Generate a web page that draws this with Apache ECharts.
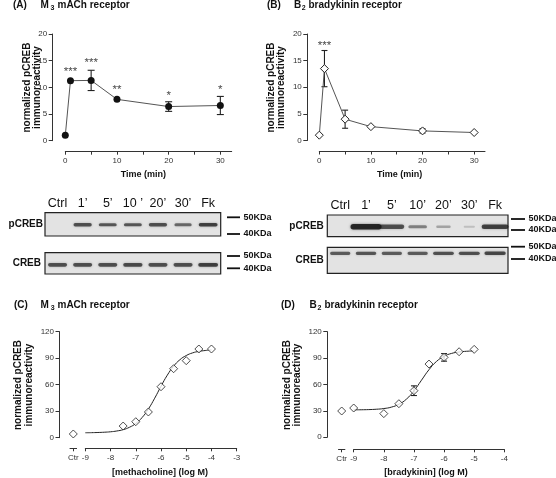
<!DOCTYPE html>
<html><head><meta charset="utf-8">
<script src="https://cdn.jsdelivr.net/npm/echarts@6/dist/echarts.min.js"></script>
<style>html,body{margin:0;padding:0;background:#fff}#c{width:556px;height:478px}</style>
</head><body><div id="c"></div><script>
// ---------- data ----------
const timeMin = [0, 1, 5, 10, 20, 30];
const timeTicks = [0, 5, 10, 15, 20, 25, 30];
const timeLabels = [0, 10, 20, 30];
const m3TimeMean = [1.0, 11.25, 11.3, 7.75, 6.4, 6.6];
const m3TimeSem = [0, 0, 1.9, 0, 0.9, 1.7];
const m3Stars = ['', '***', '***', '**', '*', '*'];
const m3StarY = [null, 13.4, 15.1, 10.1, 8.9, 10.1];
const b2TimeMean = [1.0, 13.5, 4.0, 2.6, 1.8, 1.5];
const b2TimeSem = [0, 3.4, 1.7, 0, 0.4, 0];
const b2Stars = ['', '***', '', '', '', ''];
const b2StarY = [null, 18.4, null, null, null, null];

const lanesA = ['Ctrl', '1\u2019', '5\u2019', '10 \u2019', '20\u2019', '30\u2019', 'Fk'];
const lanesB = ['Ctrl', '1\u2019', '5\u2019', '10\u2019', '20\u2019', '30\u2019', 'Fk'];
const m3pCREB = [0, 0.7, 0.65, 0.65, 0.7, 0.55, 0.8];
const m3CREB = [0.7, 0.7, 0.7, 0.72, 0.7, 0.7, 0.8];
const b2pCREB = [0, 1.0, 0.7, 0.4, 0.2, 0.04, 0.8];
const b2CREB = [0.62, 0.65, 0.62, 0.62, 0.68, 0.7, 0.75];
const kdaLabels = ['50KDa', '40KDa'];

const logMetha = [-7.5, -7, -6.5, -6, -5.5, -5, -4.5, -4];
const m3Dose = [13.2, 18.1, 29.1, 57.7, 78.1, 87.2, 100.4, 100.4];
const m3Ctr = 4.2;
const m3FitX = [-9, -8.75, -8.5, -8.25, -8, -7.75, -7.5, -7.25, -7, -6.75, -6.5, -6.25, -6, -5.75, -5.5, -5.25, -5, -4.75, -4.5, -4.25, -4];
const m3FitY = [5.6, 5.7, 5.9, 6.2, 6.7, 7.6, 9.1, 11.8, 16.1, 22.8, 32.5, 44.7, 58.2, 70.8, 80.9, 88.3, 93.0, 96.0, 97.7, 98.7, 99.4];

const logBrady = [-9, -8, -7.5, -7, -6.5, -6, -5.5, -5];
const b2Dose = [33.2, 26.8, 38.1, 52.9, 83.2, 90.8, 97.2, 99.9];
const b2DoseSem = [0, 0, 0, 5.5, 0, 4.3, 0, 0];
const b2Ctr = 29.8;
const b2FitX = [-9, -8.75, -8.5, -8.25, -8, -7.75, -7.5, -7.25, -7, -6.75, -6.5, -6.25, -6, -5.75, -5.5, -5.25, -5];
const b2FitY = [31.1, 31.2, 31.4, 31.8, 32.6, 34.2, 37.5, 43.3, 52.7, 64.8, 76.8, 86.2, 92.0, 95.3, 96.9, 97.75, 98.1];

// ---------- helpers ----------
const FONT = '"Liberation Sans", Arial, sans-serif';
const AX = '#333';
const zip = (a, b) => a.map((v, i) => [v, b[i]]);

function valX(grid, extra) {
  return Object.assign({
    type: 'value', gridIndex: grid,
    axisLine: { show: true, onZero: false, lineStyle: { color: AX, width: 1 } },
    axisTick: { show: true, length: 3, lineStyle: { color: AX } },
    axisLabel: { fontSize: 8, color: '#333', fontFamily: FONT, margin: 5 },
    splitLine: { show: false }
  }, extra);
}
function valY(grid, extra) {
  return Object.assign({
    type: 'value', gridIndex: grid, position: 'left',
    axisLine: { show: true, onZero: false, lineStyle: { color: AX, width: 1 } },
    axisTick: { show: true, length: 4, lineStyle: { color: AX } },
    axisLabel: { fontSize: 8, color: '#333', fontFamily: FONT, margin: 5.5 },
    splitLine: { show: false }
  }, extra);
}
function errData(xs, mean, sem) {
  const out = [];
  xs.forEach((x, i) => { if (sem[i] > 0) out.push([x, mean[i] - sem[i], mean[i] + sem[i]]); });
  return out;
}
function errRender(capW) {
  return function (params, api) {
    const x = api.value(0);
    const a = api.coord([x, api.value(1)]);
    const b = api.coord([x, api.value(2)]);
    const h = capW / 2;
    const st = { stroke: '#222', lineWidth: 1.1 };
    return { type: 'group', children: [
      { type: 'line', shape: { x1: a[0], y1: a[1], x2: b[0], y2: b[1] }, style: st },
      { type: 'line', shape: { x1: a[0] - h, y1: a[1], x2: a[0] + h, y2: a[1] }, style: st },
      { type: 'line', shape: { x1: b[0] - h, y1: b[1], x2: b[0] + h, y2: b[1] }, style: st }
    ] };
  };
}
function starData(xs, ys, s) {
  const out = [];
  xs.forEach((x, i) => { if (ys[i] != null && s[i]) out.push([x, ys[i], s[i]]); });
  return out;
}
function bandRender(cfg) {
  return function (params, api) {
    const inten = api.value(1);
    if (!inten) return null;
    const c = api.coord([api.value(0), 0]);
    const laneW = api.size([1, 0])[0];
    const w = laneW * (cfg.w0 + cfg.w1 * inten);
    const h = cfg.h0 + cfg.h1 * inten;
    const y = c[1] + cfg.dy;
    return { type: 'rect',
      shape: { x: c[0] - w / 2, y: y - h / 2, width: w, height: h, r: h / 2 },
      style: { fill: 'rgba(25,25,25,' + (0.15 + 0.75 * inten).toFixed(2) + ')',
               shadowBlur: 2.5, shadowColor: 'rgba(30,30,30,' + (0.6 * inten).toFixed(2) + ')' } };
  };
}

// ---------- grids ----------
const grids = [
  { left: 65.3, top: 34, width: 166.4, height: 106.7 },      // 0 A
  { left: 319.3, top: 34, width: 165.7, height: 106.5 },     // 1 B
  { left: 85.3, top: 331.7, width: 151.4, height: 106 },     // 2 C
  { left: 70, top: 331.7, width: 6.6, height: 106 },         // 3 C ctr
  { left: 353.7, top: 331.7, width: 150.6, height: 105.5 },  // 4 D
  { left: 338.5, top: 331.7, width: 6.4, height: 105.5 },    // 5 D ctr
  { left: 45, top: 212.7, width: 175.7, height: 23.3 },      // 6 A pCREB
  { left: 45, top: 252.7, width: 175.7, height: 21.3 },      // 7 A CREB
  { left: 327.3, top: 215, width: 180.7, height: 21.7 },     // 8 B pCREB
  { left: 327.3, top: 247.3, width: 180.7, height: 26 }      // 9 B CREB
];
grids.forEach((g, i) => {
  g.containLabel = false;
  if (i >= 6) { g.show = true; g.backgroundColor = '#e3e3e3'; g.borderColor = '#222'; g.borderWidth = 1.2; }
});

const timeX = (grid, max) => valX(grid, {
  min: 0, max: max, offset: 11,
  axisTick: { show: true, length: 3, lineStyle: { color: AX }, customValues: timeTicks },
  axisLabel: { fontSize: 8, color: '#333', fontFamily: FONT, margin: 5, customValues: timeLabels }
});
const ctrX = (grid, off) => valX(grid, {
  min: -1, max: 1, offset: off,
  axisTick: { show: true, length: 3, lineStyle: { color: AX }, customValues: [0] },
  axisLabel: { fontSize: 8, color: '#333', fontFamily: FONT, margin: 5, customValues: [0], formatter: () => 'Ctr' }
});
const blotX = (grid, lanes, showLabels) => ({
  type: 'category', gridIndex: grid, data: lanes, position: 'top',
  axisLine: { show: false }, axisTick: { show: false },
  axisLabel: { show: showLabels, interval: 0, fontSize: 12.5, color: '#111', fontFamily: FONT, margin: 3 }
});
const blotY = (grid, name, margin) => ({
  type: 'category', gridIndex: grid, data: [name],
  axisLine: { show: false }, axisTick: { show: false },
  axisLabel: { fontSize: 10, fontWeight: 'bold', color: '#111', fontFamily: FONT, margin: margin }
});

const xAxes = [
  timeX(0, 32.2),
  timeX(1, 32.1),
  valX(2, { min: -9, max: -3, interval: 1, offset: 10.6 }),
  ctrX(3, 10.6),
  valX(4, { min: -9, max: -4, interval: 1, offset: 12.1 }),
  ctrX(5, 12.1),
  blotX(6, lanesA, true),
  blotX(7, lanesA, false),
  blotX(8, lanesB, true),
  blotX(9, lanesB, false)
];
const yAxes = [
  valY(0, { min: 0, max: 20, interval: 5, offset: 12.6 }),
  valY(1, { min: 0, max: 20, interval: 5, offset: 12 }),
  valY(2, { min: 0, max: 120, interval: 30, offset: 25.8 }),
  { type: 'value', gridIndex: 3, min: 0, max: 120, show: false },
  valY(4, { min: 0, max: 120, interval: 30, offset: 26.4 }),
  { type: 'value', gridIndex: 5, min: 0, max: 120, show: false },
  blotY(6, 'pCREB', 2),
  blotY(7, 'CREB', 4),
  blotY(8, 'pCREB', 3.5),
  blotY(9, 'CREB', 3.5)
];

const diamond = { color: '#fff', borderColor: '#222', borderWidth: 1 };
const starLabel = { show: true, position: 'inside', formatter: p => p.data[2], fontSize: 11.5, color: '#111', fontFamily: FONT, offset: [0, 3] };

const series = [
  // A
  { type: 'custom', xAxisIndex: 0, yAxisIndex: 0, data: errData(timeMin, m3TimeMean, m3TimeSem), renderItem: errRender(7), z: 2, clip: false },
  { type: 'line', xAxisIndex: 0, yAxisIndex: 0, data: zip(timeMin, m3TimeMean), symbol: 'circle', symbolSize: 7,
    itemStyle: { color: '#111' }, lineStyle: { color: '#555', width: 1 }, z: 3, clip: false },
  { type: 'scatter', xAxisIndex: 0, yAxisIndex: 0, data: starData(timeMin, m3StarY, m3Stars), symbolSize: 1,
    itemStyle: { color: 'rgba(0,0,0,0)' }, label: starLabel, z: 4 },
  // B
  { type: 'custom', xAxisIndex: 1, yAxisIndex: 1, data: errData(timeMin, b2TimeMean, b2TimeSem), renderItem: errRender(6), z: 2, clip: false },
  { type: 'line', xAxisIndex: 1, yAxisIndex: 1, data: zip(timeMin, b2TimeMean), symbol: 'diamond', symbolSize: [8, 8],
    itemStyle: diamond, lineStyle: { color: '#555', width: 1 }, z: 3, clip: false },
  { type: 'scatter', xAxisIndex: 1, yAxisIndex: 1, data: starData(timeMin, b2StarY, b2Stars), symbolSize: 1,
    itemStyle: { color: 'rgba(0,0,0,0)' }, label: starLabel, z: 4 },
  // C
  { type: 'line', xAxisIndex: 2, yAxisIndex: 2, data: zip(m3FitX, m3FitY), smooth: true, symbol: 'none',
    lineStyle: { color: '#222', width: 1 }, z: 2 },
  { type: 'scatter', xAxisIndex: 2, yAxisIndex: 2, data: zip(logMetha, m3Dose), symbol: 'diamond', symbolSize: [8, 8],
    itemStyle: diamond, z: 3, clip: false },
  { type: 'scatter', xAxisIndex: 3, yAxisIndex: 3, data: [[0, m3Ctr]], symbol: 'diamond', symbolSize: [8, 8],
    itemStyle: diamond, z: 3, clip: false },
  // D
  { type: 'line', xAxisIndex: 4, yAxisIndex: 4, data: zip(b2FitX, b2FitY), smooth: true, symbol: 'none',
    lineStyle: { color: '#222', width: 1 }, z: 2 },
  { type: 'custom', xAxisIndex: 4, yAxisIndex: 4, data: errData(logBrady, b2Dose, b2DoseSem), renderItem: errRender(6), z: 2, clip: false },
  { type: 'scatter', xAxisIndex: 4, yAxisIndex: 4, data: zip(logBrady, b2Dose), symbol: 'diamond', symbolSize: [8, 8],
    itemStyle: diamond, z: 3, clip: false },
  { type: 'scatter', xAxisIndex: 5, yAxisIndex: 5, data: [[0, b2Ctr]], symbol: 'diamond', symbolSize: [8, 8],
    itemStyle: diamond, z: 3, clip: false },
  // blots
  { type: 'custom', xAxisIndex: 6, yAxisIndex: 6, data: m3pCREB.map((v, i) => [i, v]),
    renderItem: bandRender({ w0: 0.55, w1: 0.25, h0: 2.2, h1: 1.6, dy: 0.4 }) },
  { type: 'custom', xAxisIndex: 7, yAxisIndex: 7, data: m3CREB.map((v, i) => [i, v]),
    renderItem: bandRender({ w0: 0.55, w1: 0.3, h0: 2.4, h1: 1.8, dy: 1.5 }) },
  { type: 'custom', xAxisIndex: 8, yAxisIndex: 8, data: b2pCREB.map((v, i) => [i, v]),
    renderItem: bandRender({ w0: 0.4, w1: 0.8, h0: 1.6, h1: 3.8, dy: 0.9 }) },
  { type: 'custom', xAxisIndex: 9, yAxisIndex: 9, data: b2CREB.map((v, i) => [i, v]),
    renderItem: bandRender({ w0: 0.6, w1: 0.3, h0: 2.2, h1: 1.6, dy: -7 }) }
];

// ---------- text & annotations ----------
const g = [];
const BOLD = (s) => 'bold ' + s + 'px ' + FONT;
function text(x, y, str, font, extra) {
  g.push(Object.assign({ type: 'text', x: x, y: y, z: 10,
    style: { text: str, font: font, fill: '#111', align: 'left', verticalAlign: 'middle' } }, extra || {}));
}
function title(x0, letter, xMain, big, sub, xSub, rest, xRest, y) {
  text(x0, y, letter, BOLD(10));
  text(xMain, y, big, BOLD(10));
  text(xSub, y + 2.5, sub, BOLD(7));
  text(xRest, y, rest, BOLD(10));
}
title(13, '(A)', 40.5, 'M', '3', 50.5, 'mACh receptor', 57.5, 5.5);
title(267, '(B)', 294, 'B', '2', 301.8, 'bradykinin receptor', 308.5, 5.5);
title(14, '(C)', 40.5, 'M', '3', 50.8, 'mACh receptor', 57.5, 305.5);
title(281, '(D)', 309.5, 'B', '2', 317.5, 'bradykinin receptor', 324.5, 305.5);

function yTitle(x, y, lh) {
  g.push({ type: 'text', x: x, y: y, rotation: Math.PI / 2, z: 10,
    style: { text: 'normalized pCREB\nimmunoreactivity', font: BOLD(10), fill: '#111',
             align: 'center', verticalAlign: 'middle', lineHeight: lh } });
}
yTitle(32, 87.5, 10.5);
yTitle(276, 87.5, 10.5);
yTitle(23.5, 385, 10.5);
yTitle(292, 385, 10.5);

function xTitle(x, y, str) {
  g.push({ type: 'text', x: x, y: y, z: 10,
    style: { text: str, font: BOLD(9), fill: '#111', align: 'center', verticalAlign: 'middle' } });
}
xTitle(143.3, 175, 'Time (min)');
xTitle(399.7, 175, 'Time (min)');
xTitle(160, 473, '[methacholine] (log M)');
xTitle(426, 473, '[bradykinin] (log M)');

function kda(x1, x2, ys) {
  ys.forEach((y, i) => {
    g.push({ type: 'line', z: 10, shape: { x1: x1, y1: y, x2: x2, y2: y }, style: { stroke: '#111', lineWidth: 1.8 } });
    text(x2 + 3.5, y, kdaLabels[i], BOLD(9));
  });
}
kda(227, 240, [217.3, 234]);
kda(227, 240, [256, 268.3]);
kda(511, 525, [219, 230]);
kda(511, 525, [246.7, 259]);

const chart = echarts.init(document.getElementById('c'), null, { renderer: 'canvas' });
chart.setOption({
  animation: false,
  backgroundColor: '#fff',
  textStyle: { fontFamily: FONT },
  grid: grids,
  xAxis: xAxes,
  yAxis: yAxes,
  series: series,
  graphic: g
});
</script></body></html>
